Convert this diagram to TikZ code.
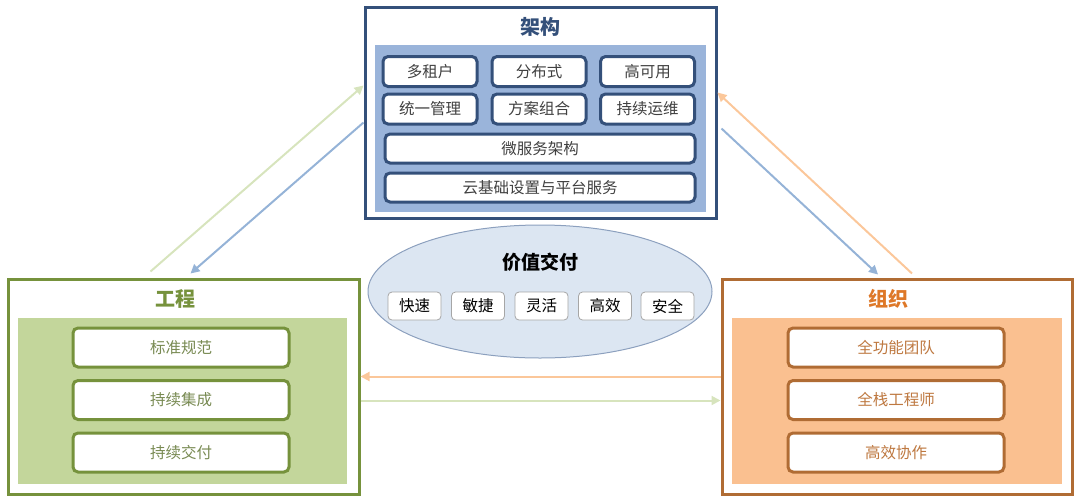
\documentclass[tikz,border=0pt]{standalone}
\usepackage{fontspec}
\setmainfont{Noto Sans CJK SC}
\usepackage{tikz}
\usetikzlibrary{arrows.meta,positioning,calc,shapes.geometric}
\definecolor{archdark}{RGB}{52,80,122}
\definecolor{archpanel}{RGB}{154,180,218}
\definecolor{engdark}{RGB}{118,146,60}
\definecolor{engpanel}{RGB}{195,214,155}
\definecolor{engtext}{RGB}{120,138,82}
\definecolor{orgdark}{RGB}{176,108,52}
\definecolor{orgtitle}{RGB}{222,120,40}
\definecolor{orgpanel}{RGB}{250,192,144}
\definecolor{orgtext}{RGB}{190,120,64}
\definecolor{valfill}{RGB}{220,230,242}
\definecolor{valline}{RGB}{140,160,190}
\definecolor{arrgreen}{RGB}{215,228,189}
\definecolor{arrblue}{RGB}{149,179,215}
\definecolor{arrorange}{RGB}{251,199,154}

\begin{document}
\begin{tikzpicture}[x=1pt,y=-1pt,
    outer/.style={draw, line width=3pt, fill=white, inner sep=0pt},
    panel/.style={fill, inner sep=0pt},
    item/.style={draw, line width=3pt, fill=white, rounded corners=5pt, inner sep=0pt,
      font=\fontsize{15.5}{15.5}\selectfont},
    valbox/.style={draw=gray!70, line width=0.8pt, fill=white, rounded corners=4pt,
      minimum width=53pt, minimum height=28pt, inner sep=0pt, font=\fontsize{15.5}{15.5}\selectfont},
    title/.style={font=\fontsize{20}{20}\selectfont\bfseries},
    link/.style={line width=2pt, -{Triangle[length=9pt,width=9pt]}}]
  \useasboundingbox (0,0) rectangle (1080,499);

  % architecture block
  \node[outer, draw=archdark, minimum width=351pt, minimum height=211pt] (arch) at (540.5,112.5) {};
  \node[panel, fill=archpanel, minimum width=331pt, minimum height=167pt] (archpanel) at (540.5,128.5) {};
  \node[title, text=archdark] (archtitle) at (540,27) {架构};
  \foreach \name/\txt/\x/\y in {mt/多租户/430/71.5, dist/分布式/539/71.5, ha/高可用/647.5/71.5,
      mgmt/统一管理/430/109, combo/方案组合/539/109, ops/持续运维/647.5/109}
    \node[item, draw=archdark, text=black!75, minimum width=94pt, minimum height=30pt] (\name) at (\x,\y) {\txt};
  \node[item, draw=archdark, text=black!75, minimum width=310pt, minimum height=29pt] (micro) at (540,148.5) {微服务架构};
  \node[item, draw=archdark, text=black!75, minimum width=310pt, minimum height=29pt] (cloud) at (540,187.5) {云基础设置与平台服务};

  % value delivery
  \node[ellipse, draw=valline, line width=1pt, fill=valfill, minimum width=344pt, minimum height=133pt] (value) at (540,291.5) {};
  \node[font=\fontsize{19}{19}\selectfont\bfseries] (valtitle) at (540,262) {价值交付};
  \foreach \name/\txt/\x in {fast/快速/414.5, agile/敏捷/478, flex/灵活/541.5, eff/高效/605, safe/安全/667.5}
    \node[valbox] (\name) at (\x,306) {\txt};

  % engineering block
  \node[outer, draw=engdark, minimum width=351pt, minimum height=215pt] (eng) at (183.5,386.5) {};
  \node[panel, fill=engpanel, minimum width=329pt, minimum height=166pt] (engpanel) at (182.5,401) {};
  \node[title, text=engdark] (engtitle) at (175,299) {工程};
  \foreach \name/\txt/\y in {std/标准规范/347.5, ci/持续集成/400, cd/持续交付/452.5}
    \node[item, draw=engdark, text=engtext, minimum width=216pt, minimum height=39pt] (\name) at (181,\y) {\txt};

  % organization block
  \node[outer, draw=orgdark, minimum width=350pt, minimum height=215pt] (org) at (897,386.5) {};
  \node[panel, fill=orgpanel, minimum width=330pt, minimum height=166pt] (orgpanel) at (897,401) {};
  \node[title, text=orgtitle] (orgtitle) at (888,299) {组织};
  \foreach \name/\txt/\y in {team/全功能团队/347.5, fullstack/全栈工程师/400, collab/高效协作/452.5}
    \node[item, draw=orgdark, text=orgtext, minimum width=216pt, minimum height=39pt] (\name) at (896,\y) {\txt};

  % connectors
  \draw[link, arrgreen] ([xshift=-33pt,yshift=6pt]eng.north) -- ([yshift=27pt]arch.west);
  \draw[link, arrblue] ([yshift=-10pt]arch.west) -- ([xshift=7pt,yshift=4pt]eng.north);
  \draw[link, arrorange] ([xshift=15pt,yshift=4pt]org.north) -- ([yshift=20pt]arch.east);
  \draw[link, arrblue] ([xshift=4pt,yshift=-16pt]arch.east) -- ([xshift=-19pt,yshift=3pt]org.north);
  \draw[link, arrorange] ([yshift=10pt]org.west) -- ([yshift=10pt]eng.east);
  \draw[link, arrgreen] ([yshift=-14pt]eng.east) -- ([yshift=-14pt]org.west);
\end{tikzpicture}
\end{document}
